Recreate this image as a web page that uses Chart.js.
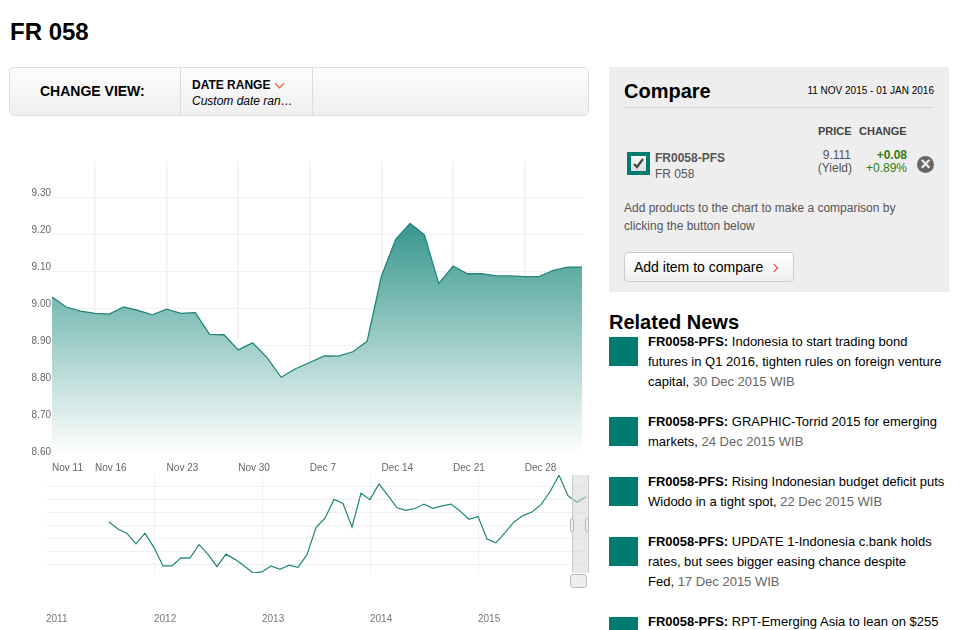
<!DOCTYPE html>
<html lang="en">
<head>
  <meta charset="UTF-8" />
  <title>FR 058</title>
  <script src="https://cdn.jsdelivr.net/npm/chart.js@4"></script>
  <style>
    body {
      font-family: 'Liberation Sans', Arial, sans-serif;
      background: #fff;
      margin: 0;
      width: 976px;
      height: 630px;
      overflow: hidden;
      position: relative;
      color: #000;
    }

    .abs { position: absolute; white-space: nowrap; line-height: 1; }

    h1 { position: absolute; left: 10px; top: 18px; margin: 0; font-size: 24px; line-height: 27px; font-weight: bold; }

    canvas { position: absolute; left: 0; }
    #mainChart { top: 156px; }
    #navChart { top: 470px; }

    .toolbar {
      position: absolute; left: 9px; top: 67px; width: 578px; height: 47px;
      border: 1px solid #dedede; border-radius: 5px;
      background: linear-gradient(#fdfdfd, #efefef);
    }
    .sep { position: absolute; top: 68px; width: 1px; height: 47px; background: #dcdcdc; }
    .chev-down {
      position: absolute; left: 276px; top: 80px; width: 6px; height: 6px;
      border-right: 1.5px solid #e8402a; border-bottom: 1.5px solid #e8402a;
      transform: rotate(45deg);
    }

    .panel { position: absolute; left: 609px; top: 67px; width: 340px; height: 225px; background: #eee; }
    .rule { position: absolute; left: 624px; top: 107px; width: 310px; height: 1px; background: #d6d6d6; }
    .check {
      position: absolute; left: 627px; top: 152px; width: 15px; height: 15px;
      border: 4px solid #007b6e; background: linear-gradient(#fafafa, #ddd);
    }
    .remove {
      position: absolute; left: 917px; top: 156px; width: 17px; height: 17px; border-radius: 50%;
      background: #666; color: #eee; font-size: 18px; font-weight: bold; line-height: 17px; text-align: center;
    }
    .btn {
      position: absolute; left: 624px; top: 252px; width: 168px; height: 28px;
      border: 1px solid #ccc; border-radius: 4px; background: linear-gradient(#fff, #f0f0f0);
    }
    .chev-right {
      position: absolute; left: 771px; top: 265px; width: 5px; height: 5px;
      border-right: 1.5px solid #e8402a; border-top: 1.5px solid #e8402a;
      transform: rotate(45deg);
    }

    .square { position: absolute; left: 609px; width: 29px; height: 29px; background: #007b6e; }
    .news { position: absolute; left: 648px; font-size: 13px; line-height: 20px; white-space: nowrap; }
    .news span { color: #666; }

    .nav-window {
      position: absolute; left: 572px; top: 475px; width: 15px; height: 98px;
      background: rgba(214, 214, 214, 0.55); border-left: 1px solid #ccc; border-right: 1px solid #ccc;
    }
    .nav-grip {
      position: absolute; top: 518px; width: 2px; height: 12px;
      border: 1px solid #bbb; border-radius: 2px; background: #eee;
    }
    .nav-thumb {
      position: absolute; left: 570px; top: 574px; width: 15px; height: 12px;
      border: 1px solid #bbb; border-radius: 3px; background: #eee;
    }
  </style>
</head>

<body>
  <h1>FR 058</h1>

  <div class="toolbar"></div>
  <div class="sep" style="left:180px"></div>
  <div class="sep" style="left:312px"></div>
  <div class="abs" style="left:40px;top:84px;font-size:14px;font-weight:bold">CHANGE VIEW:</div>
  <div class="abs" style="left:192px;top:79px;font-size:12px;font-weight:bold">DATE RANGE</div>
  <div class="chev-down"></div>
  <div class="abs" style="left:192px;top:95px;font-size:12px;font-style:italic">Custom date ran…</div>

  <canvas id="mainChart" width="600" height="324"></canvas>
  <canvas id="navChart" width="600" height="160"></canvas>
  <div class="nav-window"></div>
  <div class="nav-grip" style="left:570px"></div>
  <div class="nav-grip" style="left:585px"></div>
  <div class="nav-thumb"></div>

  <div class="panel"></div>
  <div class="abs" style="left:624px;top:81px;font-size:20px;font-weight:bold">Compare</div>
  <div class="abs" style="right:42px;top:86px;font-size:10px">11 NOV 2015 - 01 JAN 2016</div>
  <div class="rule"></div>
  <div class="abs" style="left:818px;top:126px;font-size:11px;font-weight:bold;color:#444">PRICE</div>
  <div class="abs" style="left:859px;top:126px;font-size:11px;font-weight:bold;color:#444">CHANGE</div>
  <div class="check">
    <svg width="15" height="15" viewBox="0 0 15 15"><path d="M3 8 L6 11 L12 3" fill="none" stroke="#444" stroke-width="2.2"/></svg>
  </div>
  <div class="abs" style="left:655px;top:152px;font-size:12px;font-weight:bold;color:#555">FR0058-PFS</div>
  <div class="abs" style="left:655px;top:168px;font-size:12px;color:#555">FR 058</div>
  <div class="abs" style="right:125px;top:149px;font-size:12px;color:#555">9.111</div>
  <div class="abs" style="right:124px;top:162px;font-size:12px;color:#555">(Yield)</div>
  <div class="abs" style="right:69px;top:149px;font-size:12px;font-weight:bold;color:#2f7d12">+0.08</div>
  <div class="abs" style="right:69px;top:162px;font-size:12px;color:#2f7d12">+0.89%</div>
  <div class="remove">×</div>
  <div class="abs" style="left:624px;top:202px;font-size:12px;color:#555">Add products to the chart to make a comparison by</div>
  <div class="abs" style="left:624px;top:220px;font-size:12px;color:#555">clicking the button below</div>
  <div class="btn"></div>
  <div class="abs" style="left:634px;top:260px;font-size:14px">Add item to compare</div>
  <div class="chev-right"></div>

  <div class="abs" style="left:609px;top:312px;font-size:20px;font-weight:bold">Related News</div>
  <div class="square" style="top:337px"></div>
  <div class="news" style="top:332px"><b>FR0058-PFS:</b> Indonesia to start trading bond<br>futures in Q1 2016, tighten rules on foreign venture<br>capital, <span>30 Dec 2015 WIB</span></div>
  <div class="square" style="top:417px"></div>
  <div class="news" style="top:412px"><b>FR0058-PFS:</b> GRAPHIC-Torrid 2015 for emerging<br>markets, <span>24 Dec 2015 WIB</span></div>
  <div class="square" style="top:477px"></div>
  <div class="news" style="top:472px"><b>FR0058-PFS:</b> Rising Indonesian budget deficit puts<br>Widodo in a tight spot, <span>22 Dec 2015 WIB</span></div>
  <div class="square" style="top:537px"></div>
  <div class="news" style="top:532px"><b>FR0058-PFS:</b> UPDATE 1-Indonesia c.bank holds<br>rates, but sees bigger easing chance despite<br>Fed, <span>17 Dec 2015 WIB</span></div>
  <div class="square" style="top:617px"></div>
  <div class="news" style="top:612px"><b>FR0058-PFS:</b> RPT-Emerging Asia to lean on $255</div>

  <script>
    const days = [
      'Nov 11', 'Nov 12', 'Nov 13',
      'Nov 16', 'Nov 17', 'Nov 18', 'Nov 19', 'Nov 20',
      'Nov 23', 'Nov 24', 'Nov 25', 'Nov 26', 'Nov 27',
      'Nov 30', 'Dec 1', 'Dec 2', 'Dec 3', 'Dec 4',
      'Dec 7', 'Dec 8', 'Dec 9', 'Dec 10', 'Dec 11',
      'Dec 14', 'Dec 15', 'Dec 16', 'Dec 17', 'Dec 18',
      'Dec 21', 'Dec 22', 'Dec 23', 'Dec 24', 'Dec 25',
      'Dec 28', 'Dec 29', 'Dec 30', 'Dec 31', 'Jan 1'
    ];
    const yields = [
      9.03, 9.003, 8.992,
      8.986, 8.984, 9.003, 8.994, 8.982,
      8.997, 8.986, 8.988, 8.929, 8.928,
      8.887, 8.906, 8.867, 8.813, 8.836,
      8.853, 8.871, 8.87, 8.882, 8.91,
      9.087, 9.186, 9.229, 9.198, 9.066,
      9.114, 9.093, 9.093, 9.087, 9.087,
      9.085, 9.085, 9.102, 9.111, 9.111
    ];
    const dayTicks = ['Nov 11', 'Nov 16', 'Nov 23', 'Nov 30', 'Dec 7', 'Dec 14', 'Dec 21', 'Dec 28'];

    const months = [
      'Jan 2011', 'Feb 2011', 'Mar 2011', 'Apr 2011', 'May 2011', 'Jun 2011', 'Jul 2011', 'Aug 2011', 'Sep 2011', 'Oct 2011', 'Nov 2011', 'Dec 2011',
      'Jan 2012', 'Feb 2012', 'Mar 2012', 'Apr 2012', 'May 2012', 'Jun 2012', 'Jul 2012', 'Aug 2012', 'Sep 2012', 'Oct 2012', 'Nov 2012', 'Dec 2012',
      'Jan 2013', 'Feb 2013', 'Mar 2013', 'Apr 2013', 'May 2013', 'Jun 2013', 'Jul 2013', 'Aug 2013', 'Sep 2013', 'Oct 2013', 'Nov 2013', 'Dec 2013',
      'Jan 2014', 'Feb 2014', 'Mar 2014', 'Apr 2014', 'May 2014', 'Jun 2014', 'Jul 2014', 'Aug 2014', 'Sep 2014', 'Oct 2014', 'Nov 2014', 'Dec 2014',
      'Jan 2015', 'Feb 2015', 'Mar 2015', 'Apr 2015', 'May 2015', 'Jun 2015', 'Jul 2015', 'Aug 2015', 'Sep 2015', 'Oct 2015', 'Nov 2015', 'Dec 2015',
      'Jan 2016'
    ];
    const monthlyYields = [
      null, null, null, null, null, null, null, 8.14, 7.87, 7.70, 7.30, 7.71,
      7.16, 6.46, 6.46, 6.77, 6.76, 7.27, 6.90, 6.43, 6.91, 6.71, 6.47, 6.19,
      6.23, 6.46, 6.33, 6.49, 6.41, 6.89, 7.92, 8.28, 9.00, 8.84, 7.94, 9.23,
      8.99, 9.59, 9.14, 8.68, 8.58, 8.65, 8.82, 8.66, 8.75, 8.82, 8.56, 8.24,
      8.35, 7.49, 7.34, 7.73, 8.14, 8.38, 8.52, 8.80, 9.29, 9.92, 9.14, 8.89,
      9.10
    ];
    const yearTicks = ['Jan 2011', 'Jan 2012', 'Jan 2013', 'Jan 2014', 'Jan 2015'];

    const teal = '#1f8578';
    const gridColor = '#eff0f4';
    const labelFont = { family: "'Liberation Sans', Arial, sans-serif", size: 10 };

    // fit hooks pin the plot area, chart.js would otherwise reserve room for edge labels
    function pinWidth(w) {
      return s => { s.width = w; s.paddingTop = 0; s.paddingBottom = 0; };
    }
    function pinHeight(h) {
      return s => { s.height = h; s.paddingLeft = 0; s.paddingRight = 0; };
    }

    function tealFade(context) {
      const area = context.chart.chartArea;
      if (!area) return '#80bdb6';
      const g = context.chart.ctx.createLinearGradient(0, area.top, 0, area.bottom - 3);
      g.addColorStop(0, '#007b6e');
      g.addColorStop(1, '#ffffff');
      return g;
    }

    new Chart(document.getElementById('mainChart'), {
      type: 'line',
      data: {
        labels: days,
        datasets: [{
          data: yields,
          borderColor: teal,
          borderWidth: 1.3,
          backgroundColor: tealFade,
          fill: 'start',
          tension: 0,
          pointRadius: 0
        }]
      },
      options: {
        responsive: false,
        animation: false,
        layout: { padding: { top: 5, right: 18, left: 0, bottom: 0 } },
        plugins: { legend: { display: false }, tooltip: { enabled: false } },
        scales: {
          x: {
            afterFit: pinHeight(24),
            border: { display: false },
            grid: {
              drawTicks: false,
              lineWidth: 1.5,
              color: c => (c.index > 0 && dayTicks.includes(days[c.index])) ? gridColor : 'transparent'
            },
            ticks: {
              autoSkip: false,
              maxRotation: 0,
              align: 'start',
              padding: 6,
              color: '#666',
              font: labelFont,
              callback: (v, i) => dayTicks.includes(days[i]) ? days[i] : ''
            }
          },
          y: {
            min: 8.6,
            max: 9.398,
            afterFit: pinWidth(52),
            border: { display: false },
            grid: {
              drawTicks: false,
              color: c => c.tick.value < 8.65 ? 'transparent' : gridColor
            },
            ticks: {
              stepSize: 0.1,
              includeBounds: false,
              padding: 1,
              labelOffset: -4,
              color: '#666',
              font: labelFont,
              callback: v => v.toFixed(2)
            }
          }
        }
      }
    });

    new Chart(document.getElementById('navChart'), {
      type: 'line',
      data: {
        labels: months,
        datasets: [{
          data: monthlyYields,
          borderColor: teal,
          borderWidth: 1.2,
          fill: false,
          tension: 0,
          pointRadius: 0
        }]
      },
      options: {
        responsive: false,
        animation: false,
        layout: { padding: { top: 5, right: 14, left: 0, bottom: 0 } },
        plugins: { legend: { display: false }, tooltip: { enabled: false } },
        scales: {
          x: {
            afterFit: pinHeight(57),
            border: { display: false },
            grid: {
              drawTicks: false,
              color: c => (c.index > 0 && yearTicks.includes(months[c.index])) ? gridColor : 'transparent'
            },
            ticks: {
              autoSkip: false,
              maxRotation: 0,
              align: 'start',
              padding: 40,
              color: '#777',
              font: labelFont,
              callback: (v, i) => yearTicks.includes(months[i]) ? months[i].slice(4) : ''
            }
          },
          y: {
            min: 6.19,
            max: 9.93,
            afterFit: pinWidth(46),
            border: { display: false },
            grid: { drawTicks: false, color: gridColor },
            ticks: { display: false, stepSize: 0.5, includeBounds: false }
          }
        }
      }
    });
  </script>
</body>
</html>
